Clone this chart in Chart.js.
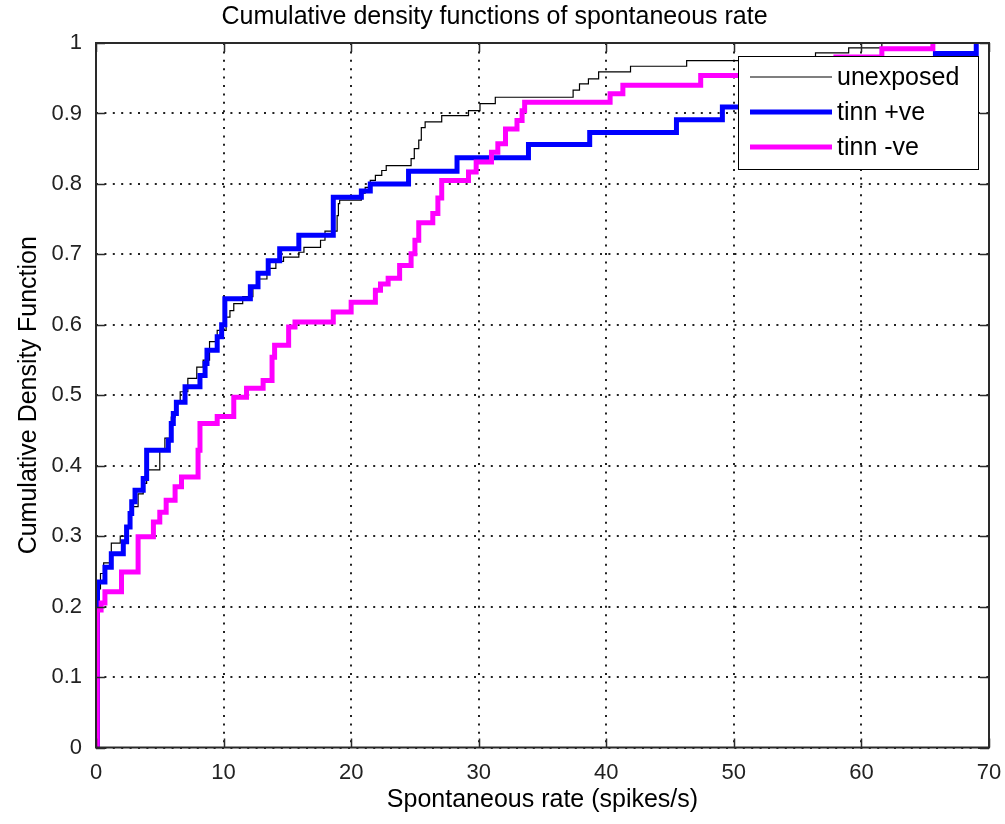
<!DOCTYPE html>
<html>
<head>
<meta charset="utf-8">
<title>Cumulative density functions of spontaneous rate</title>
<script src="https://cdn.jsdelivr.net/npm/chart.js@4/dist/chart.umd.min.js"></script>
<style>
  html, body { margin: 0; padding: 0; background: #fff; }
  canvas { display: block; }
</style>
</head>
<body>
<canvas id="cdf" width="1005" height="824" style="width:1005px;height:824px"></canvas>
<script>
// Empirical CDF steps: [rate, cumulative fraction] at each jump
const unexposed = [
  [0, 0], [0.1, 0.225], [0.35, 0.247], [0.6, 0.262], [1.2, 0.29], [1.9, 0.3],
  [2.3, 0.315], [2.6, 0.33], [2.9, 0.342], [3.3, 0.36], [3.7, 0.375], [3.97, 0.394],
  [5.0, 0.422], [5.4, 0.439], [5.9, 0.469], [6.2, 0.49], [6.6, 0.505], [7.2, 0.524],
  [7.9, 0.54], [8.4, 0.55], [8.9, 0.576], [9.5, 0.592], [10.2, 0.611], [10.5, 0.62],
  [10.8, 0.63], [11.5, 0.64], [12.3, 0.652], [12.8, 0.665], [13.4, 0.68], [14.1, 0.69],
  [14.7, 0.696], [15.9, 0.703], [16.3, 0.71], [17.6, 0.72], [17.95, 0.733], [18.9, 0.755],
  [19.0, 0.772], [19.1, 0.777], [20.8, 0.787], [21.1, 0.795], [21.5, 0.805], [21.9, 0.812],
  [22.4, 0.819], [22.75, 0.826], [24.7, 0.836], [24.95, 0.85], [25.3, 0.862], [25.5, 0.88],
  [25.8, 0.888], [27.1, 0.897], [29.2, 0.904], [30.1, 0.914], [31.3, 0.923], [37.4, 0.933],
  [37.9, 0.942], [38.6, 0.949], [39.4, 0.959], [41.9, 0.967], [46.3, 0.975], [51.5, 0.98],
  [56.4, 0.986], [59.0, 0.993], [61.6, 1.0]
];
const tinnPos = [
  [0, 0], [0.12, 0.235], [0.7, 0.256], [1.2, 0.275], [2.14, 0.292], [2.4, 0.313],
  [2.67, 0.332], [2.8, 0.349], [3.06, 0.365], [3.7, 0.382], [3.97, 0.422], [5.67, 0.436],
  [5.9, 0.46], [6.06, 0.474], [6.3, 0.49], [6.98, 0.512], [8.15, 0.528], [8.55, 0.545],
  [8.7, 0.564], [9.5, 0.583], [9.85, 0.6], [10.1, 0.637], [12.1, 0.654], [12.7, 0.673],
  [13.5, 0.691], [14.4, 0.708], [15.9, 0.727], [18.6, 0.781], [20.8, 0.79], [21.5, 0.8],
  [24.5, 0.818], [28.3, 0.837], [33.9, 0.856], [38.7, 0.873], [45.5, 0.891], [49.1, 0.909],
  [53.5, 0.927], [57.5, 0.945], [61.5, 0.964], [65.8, 0.985], [69.0, 1.0]
];
const tinnNeg = [
  [0, 0], [0.1, 0.195], [0.4, 0.205], [0.7, 0.221], [2.0, 0.249], [3.3, 0.299],
  [4.5, 0.32], [5.0, 0.334], [5.5, 0.351], [6.2, 0.37], [6.7, 0.384], [8.0, 0.422],
  [8.15, 0.46], [9.5, 0.47], [10.8, 0.497], [11.8, 0.51], [13.1, 0.521], [13.8, 0.554],
  [14.0, 0.571], [15.1, 0.597], [15.6, 0.604], [18.6, 0.618], [20.0, 0.632], [21.9, 0.649],
  [22.3, 0.658], [22.9, 0.666], [23.8, 0.684], [24.7, 0.701], [25.0, 0.72], [25.3, 0.745],
  [26.4, 0.758], [26.8, 0.78], [27.1, 0.805], [29.2, 0.817], [29.8, 0.831], [31.0, 0.845],
  [31.5, 0.857], [32.1, 0.878], [33.0, 0.89], [33.4, 0.904], [33.6, 0.916], [40.3, 0.928],
  [41.3, 0.94], [47.4, 0.954], [53.0, 0.968], [58.0, 0.98], [61.6, 0.992], [65.6, 1.0]
];

const seriesNames = ['unexposed', 'tinn +ve', 'tinn -ve'];
const xTickLabels = ['0', '10', '20', '30', '40', '50', '60', '70'];
const yTickLabels = ['0', '0.1', '0.2', '0.3', '0.4', '0.5', '0.6', '0.7', '0.8', '0.9', '1'];

const FONT = "'Liberation Sans', Arial, Helvetica, sans-serif";
const toPoints = arr => arr.map(([x, y]) => ({ x, y }));

// Legend box drawn inside the plot area (top-right), then the axes frame with inward ticks
const framePlugin = {
  id: 'frameAndLegend',
  afterDraw(chart) {
    const { ctx, chartArea: a, scales } = chart;
    const ds = chart.data.datasets;

    // legend
    const w = 240, h = 113;
    const lx = a.right - 11 - w, ly = a.top + 13;
    ctx.save();
    ctx.fillStyle = '#fff';
    ctx.fillRect(lx, ly, w, h);
    ctx.strokeStyle = '#000';
    ctx.lineWidth = 1;
    ctx.strokeRect(Math.round(lx) + 0.5, Math.round(ly) + 0.5, w, h);
    ctx.font = '25px ' + FONT;
    ctx.textBaseline = 'middle';
    ctx.fillStyle = '#000';
    ds.forEach((d, i) => {
      const ry = ly + 21 + i * 35;
      ctx.beginPath();
      ctx.strokeStyle = d.borderColor;
      ctx.lineWidth = d.borderWidth;
      ctx.moveTo(lx + 12, ry);
      ctx.lineTo(lx + 94, ry);
      ctx.stroke();
      ctx.fillText(d.label, lx + 99, ry + 1);
    });
    ctx.restore();

    // frame box
    ctx.save();
    ctx.strokeStyle = '#2a2a2a';
    ctx.lineWidth = 2;
    ctx.strokeRect(a.left, a.top, a.right - a.left, a.bottom - a.top);
    // inward ticks on all four sides
    const tl = 9;
    ctx.lineWidth = 1.5;
    ctx.beginPath();
    scales.x.ticks.forEach(t => {
      const px = Math.round(scales.x.getPixelForValue(t.value)) + 0.5;
      ctx.moveTo(px, a.bottom); ctx.lineTo(px, a.bottom - tl);
      ctx.moveTo(px, a.top); ctx.lineTo(px, a.top + tl);
    });
    scales.y.ticks.forEach(t => {
      const py = Math.round(scales.y.getPixelForValue(t.value)) + 0.5;
      ctx.moveTo(a.left, py); ctx.lineTo(a.left + tl, py);
      ctx.moveTo(a.right, py); ctx.lineTo(a.right - tl, py);
    });
    ctx.stroke();
    ctx.restore();
  }
};

const gridDots = [2, 6.4];

new Chart(document.getElementById('cdf'), {
  type: 'line',
  data: {
    datasets: [
      { label: seriesNames[0], data: toPoints(unexposed), borderColor: '#000000', borderWidth: 1.2, order: 2 },
      { label: seriesNames[1], data: toPoints(tinnPos), borderColor: '#0000ff', borderWidth: 5, order: 1 },
      { label: seriesNames[2], data: toPoints(tinnNeg), borderColor: '#ff00ff', borderWidth: 5, order: 0 }
    ]
  },
  options: {
    responsive: false,
    animation: false,
    elements: {
      line: { stepped: 'before', tension: 0, fill: false, borderCapStyle: 'butt', borderJoinStyle: 'miter' },
      point: { radius: 0, hoverRadius: 0 }
    },
    layout: { padding: { left: 0, right: 16, top: 0, bottom: 0 } },
    plugins: {
      legend: { display: false },
      tooltip: { enabled: false },
      title: {
        display: true,
        text: 'Cumulative density functions of spontaneous rate',
        color: '#000',
        font: { family: FONT, size: 25, weight: 'normal' },
        padding: { top: 2, bottom: 11 }
      }
    },
    scales: {
      x: {
        type: 'linear', min: 0, max: 70,
        ticks: {
          stepSize: 10, color: '#222', padding: 0, maxRotation: 0,
          font: { family: FONT, size: 22 },
          callback: (v, i) => xTickLabels[i]
        },
        grid: {
          color: '#222', lineWidth: 2, borderDash: gridDots,
          drawTicks: true, tickLength: 12, tickColor: 'rgba(0,0,0,0)'
        },
        border: { display: false, dash: gridDots },
        title: {
          display: true, text: 'Spontaneous rate (spikes/s)', color: '#000',
          font: { family: FONT, size: 25 }, padding: { top: 0, bottom: 9 }
        },
        afterFit: s => { s.height = 76.5; }
      },
      y: {
        type: 'linear', min: 0, max: 1,
        ticks: {
          stepSize: 0.1, color: '#222', padding: 14,
          font: { family: FONT, size: 22 },
          callback: (v, i) => yTickLabels[i]
        },
        grid: { color: '#222', lineWidth: 2, drawTicks: false, borderDash: gridDots },
        border: { display: false, dash: gridDots },
        title: {
          display: true, text: 'Cumulative Density Function', color: '#000',
          font: { family: FONT, size: 25 }, padding: { top: 14, bottom: 0 }
        },
        afterFit: s => { s.width = 96; }
      }
    }
  },
  plugins: [framePlugin]
});
</script>
</body>
</html>
